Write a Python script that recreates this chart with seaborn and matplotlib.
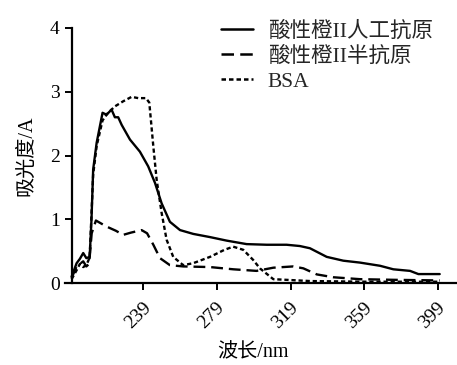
import matplotlib
matplotlib.use("Agg")
import matplotlib.pyplot as plt
import matplotlib.transforms as mtransforms
import seaborn as sns
import pandas as pd

# ---- data ----
wl_conj = [200, 202.7, 204.5, 206.3, 208, 209.8, 210.8, 211.7, 213.6, 216.8, 219, 221.7, 223.5,
           225.3, 227.2, 231.7, 237.1, 241.6, 245.3, 248.9, 253.4, 258.9, 266.1, 275.2, 284.2,
           295.1, 306, 316.8, 324, 329.5, 338.6, 347.6, 356.7, 367.6, 374.8, 383.9, 388.4, 400]
abs_conj = [0.10, 0.31, 0.38, 0.47, 0.39, 0.41, 1.00, 1.78, 2.20, 2.67, 2.64, 2.72, 2.60,
            2.60, 2.48, 2.25, 2.06, 1.83, 1.57, 1.25, 0.96, 0.83, 0.77, 0.72, 0.665,
            0.61, 0.60, 0.60, 0.58, 0.545, 0.41, 0.35, 0.32, 0.27, 0.215, 0.19, 0.14, 0.14]

wl_hapten = [200, 202.7, 204.5, 206.3, 208, 209.5, 210.9, 213.2, 219, 224, 228, 232.2, 238,
             241, 244.4, 248, 253.4, 260.6, 275.2, 287.8, 300.5, 309.6, 320.4, 325.9, 333.2,
             342.2, 356.7, 374.8, 400]
abs_hapten = [0.08, 0.26, 0.30, 0.34, 0.26, 0.30, 0.78, 0.98, 0.885, 0.82, 0.755, 0.79, 0.83,
              0.78, 0.60, 0.39, 0.28, 0.26, 0.25, 0.215, 0.19, 0.24, 0.26, 0.23, 0.135,
              0.09, 0.06, 0.05, 0.04]

wl_bsa = [200, 202.7, 204.5, 206.3, 208, 209.8, 211.7, 213.6, 216.8, 219.5, 221.7, 223.5, 228,
          232.6, 236.2, 240.4, 242.2, 244.4, 246.2, 248.9, 251.6, 255.2, 260.6, 266, 275.2,
          283, 287.8, 293.3, 298.7, 302.3, 309.6, 330, 360, 400]
abs_bsa = [0.06, 0.20, 0.30, 0.25, 0.28, 0.40, 1.70, 2.15, 2.55, 2.66, 2.72, 2.77, 2.85,
           2.92, 2.90, 2.90, 2.83, 2.14, 1.62, 1.10, 0.68, 0.41, 0.28, 0.31, 0.41,
           0.52, 0.57, 0.52, 0.36, 0.23, 0.06, 0.03, 0.02, 0.02]

labels = ["酸性橙II人工抗原", "酸性橙II半抗原", "BSA"]
x_ticks = [239, 279, 319, 359, 399]
y_ticks = [0, 1, 2, 3, 4]

sns.set_theme(style="ticks")
fonts = ["Liberation Serif", "Noto Sans CJK SC"]
plt.rcParams["font.family"] = fonts
plt.rcParams["axes.unicode_minus"] = False

fig = plt.figure(figsize=(4.57, 3.65), dpi=100)
ax = fig.add_axes([65 / 457, (365 - 283) / 365, (457 - 65) / 457, (283 - 28) / 365])

series = [(wl_conj, abs_conj, "-"), (wl_hapten, abs_hapten, (0, (5, 2.5))), (wl_bsa, abs_bsa, (0, (1.8, 1.2)))]
for (xs, ys, ls), lab in zip(series, labels):
    df = pd.DataFrame({"wl": xs, "abs": ys})
    sns.lineplot(data=df, x="wl", y="abs", ax=ax, color="black", lw=1.7,
                 linestyle=ls, label=lab, sort=False)

ax.set_xlim(196.4, 409.4)
ax.set_ylim(0, 4)
ax.spines["left"].set_position(("data", 200))
ax.spines["right"].set_visible(False)
ax.spines["top"].set_visible(False)
for s in ["left", "bottom"]:
    ax.spines[s].set_linewidth(1.6)
    ax.spines[s].set_color("black")

ax.set_xticks(x_ticks)
ax.set_yticks(y_ticks)
ax.tick_params(axis="both", direction="out", length=5, width=1.4, color="black",
               labelsize=14, labelcolor="black")
ax.tick_params(axis="x", pad=6)
offset = mtransforms.ScaledTranslation(5 / 100, -7 / 100, fig.dpi_scale_trans)
for t in ax.get_xticklabels():
    t.set_rotation(45)
    t.set_ha("right")
    t.set_rotation_mode("anchor")
    t.set_va("center")
    t.set_transform(t.get_transform() + offset)

ax.set_xlabel("波长/nm", fontsize=14.5, color="black", labelpad=6)
ax.xaxis.set_label_coords(0.48, -0.235)
ax.set_ylabel("吸光度/A", fontsize=14.5, color="black", labelpad=10)

leg = ax.legend(loc="upper right", bbox_to_anchor=(0.96, 1.06), frameon=False,
                fontsize=15.5, handlelength=1.45, handletextpad=0.7, labelspacing=0.22,
                borderaxespad=0)
for h in leg.get_lines():
    h.set_linewidth(1.8)

fig.savefig("out.png", dpi=100)
